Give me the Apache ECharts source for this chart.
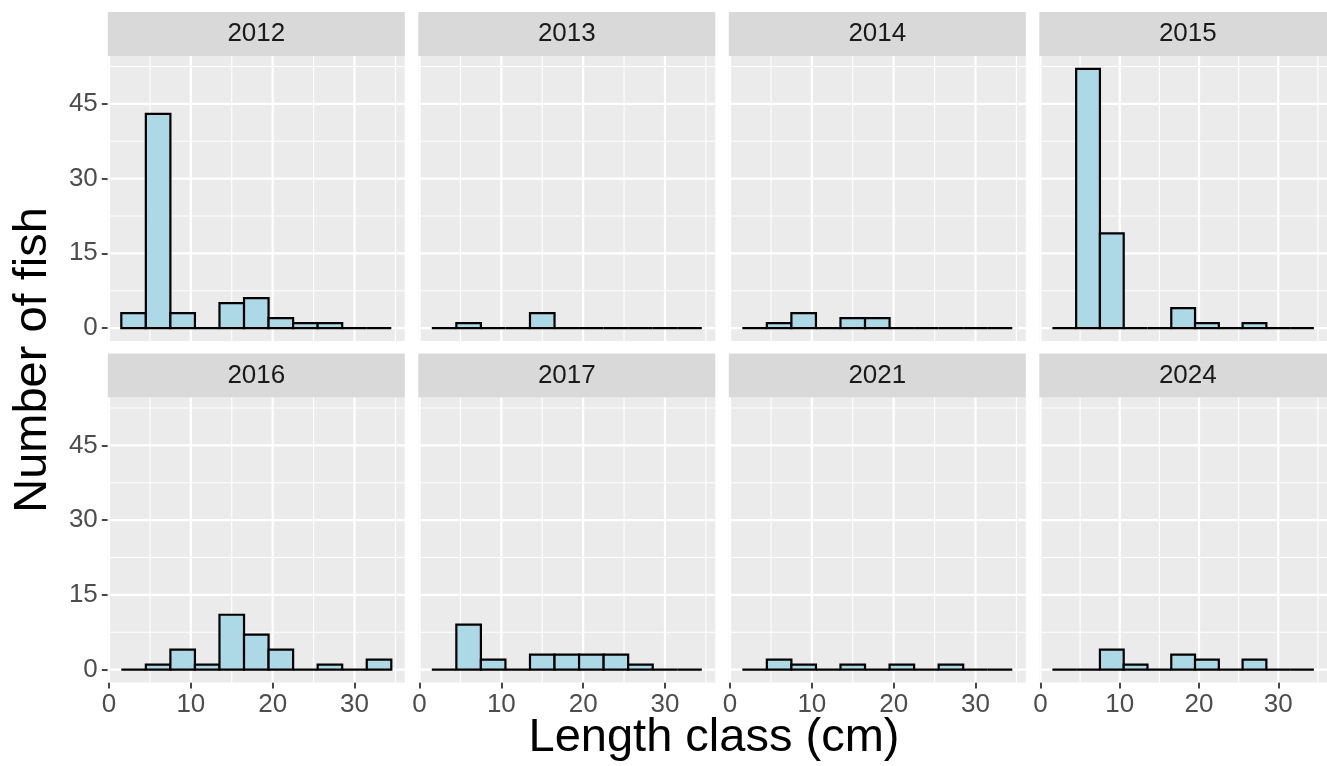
<!DOCTYPE html>
<html><head><meta charset="utf-8">
<script src="https://cdn.jsdelivr.net/npm/echarts@6/dist/echarts.min.js"></script>
<style>html,body{margin:0;padding:0;background:#fff}#chart{width:1327px;height:766px}</style>
</head><body><div id="chart"></div>
<script>
// ---- data ----
const years = ['2012','2013','2014','2015','2016','2017','2021','2024'];
const binCenters = [3,6,9,12,15,18,21,24,27,30,33];
const binWidth = 3;
const counts2012 = [3,43,3,0,5,6,2,1,1,0,0];
const counts2013 = [0,1,0,0,3,0,0,0,0,0,0];
const counts2014 = [0,1,3,0,2,2,0,0,0,0,0];
const counts2015 = [0,52,19,0,0,4,1,0,1,0,0];
const counts2016 = [0,1,4,1,11,7,4,0,1,0,2];
const counts2017 = [0,9,2,0,3,3,3,3,1,0,0];
const counts2021 = [0,2,1,0,1,0,1,0,1,0,0];
const counts2024 = [0,0,4,1,0,3,2,0,2,0,0];
const xTicks = [0,10,20,30];
const xMinor = [5,15,25,35];
const yTicks = [0,15,30,45];
const yMinor = [7.5,22.5,37.5,52.5];
const xTitle = 'Length class (cm)';
const yTitle = 'Number of fish';

const allCounts = [counts2012,counts2013,counts2014,counts2015,counts2016,counts2017,counts2021,counts2024];

// ---- layout ----
const FONT = 'Liberation Sans, Arial, sans-serif';
const colLeft = [107.8, 418.3, 728.8, 1039.3];
const panelW = 297;
const rowTop = [56, 397.5];
const panelH = 285;
const stripH = 44;
const xMin = -0.15, xMax = 36.15, yMin = -2.6, yMax = 54.6;

const grids = [], xAxes = [], yAxes = [], series = [], graphics = [];

const gridData = [].concat(
  xMinor.map(v => [v, 0]), yMinor.map(v => [v, 2]),
  xTicks.map(v => [v, 1]), yTicks.map(v => [v, 3])
);

function gridRender(params, api) {
  const v = api.value(0), k = api.value(1);
  const cs = params.coordSys;
  const w = (k === 1 || k === 3) ? 2.2 : 1.1;
  let shape;
  if (k < 2) {
    const x = api.coord([v, 0])[0];
    shape = {x1: x, y1: cs.y, x2: x, y2: cs.y + cs.height};
  } else {
    const y = api.coord([0, v])[1];
    shape = {x1: cs.x, y1: y, x2: cs.x + cs.width, y2: y};
  }
  return {type: 'line', shape, style: {stroke: '#FFFFFF', lineWidth: w}};
}

function barRender(params, api) {
  const c = api.value(0), n = api.value(1);
  const p0 = api.coord([c - binWidth / 2, n]);
  const p1 = api.coord([c + binWidth / 2, 0]);
  return {
    type: 'rect',
    shape: {x: p0[0], y: p0[1], width: p1[0] - p0[0], height: p1[1] - p0[1]},
    style: {fill: '#ADD8E6', stroke: '#000000', lineWidth: 2.2}
  };
}

years.forEach((yr, i) => {
  const r = Math.floor(i / 4), c = i % 4;
  const left = colLeft[c], top = rowTop[r];
  grids.push({left, top, width: panelW, height: panelH, backgroundColor: '#EBEBEB', show: true, borderWidth: 0, containLabel: false});
  const showX = r === 1, showY = c === 0;
  xAxes.push({
    type: 'value', gridIndex: i, min: xMin, max: xMax,
    axisLine: {show: false, onZero: false},
    splitLine: {show: false},
    axisTick: {show: showX, customValues: xTicks, length: 6, lineStyle: {color: '#333333', width: 1.8}},
    axisLabel: {show: showX, customValues: xTicks, fontSize: 26, color: '#4D4D4D', fontFamily: FONT, margin: 9}
  });
  yAxes.push({
    type: 'value', gridIndex: i, min: yMin, max: yMax,
    axisLine: {show: false, onZero: false},
    splitLine: {show: false},
    axisTick: {show: showY, customValues: yTicks, length: 6, lineStyle: {color: '#333333', width: 1.8}},
    axisLabel: {show: showY, customValues: yTicks, fontSize: 26, color: '#4D4D4D', fontFamily: FONT, margin: 10}
  });
  series.push({
    type: 'custom', xAxisIndex: i, yAxisIndex: i, silent: true, z: 1,
    renderItem: gridRender, data: gridData
  });
  series.push({
    type: 'custom', xAxisIndex: i, yAxisIndex: i, silent: true, z: 2,
    renderItem: barRender,
    data: binCenters.map((bc, j) => [bc, allCounts[i][j]])
  });
  graphics.push({
    type: 'rect', left: left, top: top - stripH, silent: true,
    shape: {x: 0, y: 0, width: panelW, height: stripH},
    style: {fill: '#D9D9D9'}
  });
  graphics.push({
    type: 'text', x: left + panelW / 2, y: top - stripH / 2, silent: true,
    style: {text: yr, font: '26px ' + FONT, fill: '#1A1A1A', align: 'center', verticalAlign: 'middle', textAlign: 'center', textVerticalAlign: 'middle'}
  });
});

graphics.push({
  type: 'text', x: 714, y: 738, silent: true,
  style: {text: xTitle, font: '47px ' + FONT, fill: '#000000', align: 'center', verticalAlign: 'middle', textAlign: 'center', textVerticalAlign: 'middle'}
});
graphics.push({
  type: 'text', x: 33, y: 360, rotation: Math.PI / 2, silent: true,
  style: {text: yTitle, font: '47px ' + FONT, fill: '#000000', align: 'center', verticalAlign: 'middle', textAlign: 'center', textVerticalAlign: 'middle'}
});

const chart = echarts.init(document.getElementById('chart'), null, {renderer: 'canvas'});
chart.setOption({
  animation: false,
  backgroundColor: '#FFFFFF',
  grid: grids, xAxis: xAxes, yAxis: yAxes, series: series,
  graphic: {elements: graphics}
});
</script></body></html>
